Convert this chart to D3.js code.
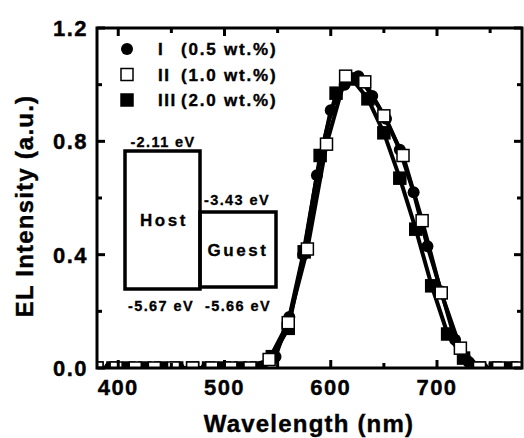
<!DOCTYPE html>
<html>
<head>
<meta charset="utf-8">
<script src="https://cdn.jsdelivr.net/npm/d3@7"></script>
<style>
  body { margin: 0; background: #fff; }
  svg text { font-family: "Liberation Sans", Arial, sans-serif; font-weight: bold; fill: #000; stroke: #000; stroke-width: 0.4px; }
</style>
</head>
<body>
<div id="chart"></div>
<script>
// series I (0.5 wt.%) - filled circles
const wlI = [379, 392, 405, 418, 431, 444, 457, 470, 483, 496, 509, 522, 535, 548, 561, 574, 587, 600, 613, 626, 639, 652, 665, 678, 691, 704, 717, 730, 743, 756, 769];
const valI = [0, 0, 0, 0, 0, 0, 0, 0, 0, 0, 0, 0, 0.005, 0.04, 0.18, 0.40, 0.68, 0.91, 1.0, 1.03, 0.96, 0.88, 0.77, 0.62, 0.43, 0.27, 0.10, 0.02, 0, 0, 0];
// series II (1.0 wt.%) - open squares
const wlII = [380, 398, 416, 434, 452, 470, 488, 506, 524, 542, 560, 578, 596, 614, 632, 650, 668, 686, 704, 722, 740, 758, 776];
const valII = [0, 0, 0, 0, 0, 0, 0, 0, 0, 0.03, 0.16, 0.42, 0.79, 1.03, 1.01, 0.89, 0.75, 0.52, 0.265, 0.07, 0, 0, 0];
// series III (2.0 wt.%) - filled squares
const wlIII = [380, 395, 410, 425, 440, 455, 470, 485, 500, 515, 530, 545, 560, 575, 590, 605, 620, 635, 650, 665, 680, 695, 710, 725, 740, 755, 770];
const valIII = [0, 0, 0, 0, 0, 0, 0, 0, 0, 0, 0, 0.04, 0.14, 0.41, 0.75, 0.97, 1.02, 0.95, 0.83, 0.67, 0.49, 0.29, 0.12, 0.035, 0, 0, 0];

const legendLabels = ["I", "II", "III"];
const legendNotes = ["(0.5 wt.%)", "(1.0 wt.%)", "(2.0 wt.%)"];
const xTicks = [400, 500, 600, 700];
const xMinor = [450, 550, 650, 750];
const yTicks = [0, 0.4, 0.8, 1.2];
const yMinor = [0.2, 0.6, 1.0];

const W = 524, H = 438;
const margin = { top: 28, right: 2, bottom: 70, left: 97 };

const svg = d3.select('#chart').append('svg')
  .attr('width', W)
  .attr('height', H);

const x = d3.scaleLinear().domain([380, 780]).range([margin.left, W - margin.right]);
const y = d3.scaleLinear().domain([0, 1.2]).range([H - margin.bottom, margin.top]);

const series = [
  { wl: wlI, val: valI, shape: 'circle', fill: '#000' },
  { wl: wlIII, val: valIII, shape: 'square', fill: '#000' },
  { wl: wlII, val: valII, shape: 'square', fill: '#fff' }
];

const line = d3.line().x(d => x(d[0])).y(d => y(d[1]));

const plot = svg.append('g');
plot.append('clipPath').attr('id', 'clip')
  .append('rect')
  .attr('x', margin.left).attr('y', margin.top - 10)
  .attr('width', W - margin.left - margin.right).attr('height', H - margin.bottom - margin.top + 10);

const inner = plot.append('g').attr('clip-path', 'url(#clip)');

// lines first
series.forEach(s => {
  const pts = s.wl.map((w, i) => [w, s.val[i]]);
  inner.append('path')
    .datum(pts)
    .attr('d', line)
    .attr('fill', 'none')
    .attr('stroke', '#000')
    .attr('stroke-width', 4)
    .attr('stroke-linejoin', 'round');
});

// markers
series.forEach(s => {
  const pts = s.wl.map((w, i) => [w, s.val[i]]);
  if (s.shape === 'circle') {
    inner.selectAll(null).data(pts).join('circle')
      .attr('cx', d => x(d[0]))
      .attr('cy', d => y(d[1]))
      .attr('r', 6)
      .attr('fill', s.fill);
  } else {
    inner.selectAll(null).data(pts).join('rect')
      .attr('x', d => x(d[0]) - 6)
      .attr('y', d => y(d[1]) - 6)
      .attr('width', 12)
      .attr('height', 12)
      .attr('fill', s.fill)
      .attr('stroke', '#000')
      .attr('stroke-width', 1.5);
  }
});

// axes (ticks inward)
const x0 = margin.left, x1 = W - margin.right, y0 = H - margin.bottom, y1 = margin.top;
const axisG = svg.append('g').attr('stroke', '#000');

xTicks.forEach(t => {
  axisG.append('line').attr('x1', x(t)).attr('x2', x(t)).attr('y1', y0).attr('y2', y0 - 8).attr('stroke-width', 3);
  axisG.append('line').attr('x1', x(t)).attr('x2', x(t)).attr('y1', y1).attr('y2', y1 + 8).attr('stroke-width', 3);
});
xMinor.forEach(t => {
  axisG.append('line').attr('x1', x(t)).attr('x2', x(t)).attr('y1', y0).attr('y2', y0 - 5).attr('stroke-width', 3);
  axisG.append('line').attr('x1', x(t)).attr('x2', x(t)).attr('y1', y1).attr('y2', y1 + 5).attr('stroke-width', 3);
});
yTicks.forEach(t => {
  axisG.append('line').attr('y1', y(t)).attr('y2', y(t)).attr('x1', x0).attr('x2', x0 + 8).attr('stroke-width', 3);
  axisG.append('line').attr('y1', y(t)).attr('y2', y(t)).attr('x1', x1).attr('x2', x1 - 8).attr('stroke-width', 3);
});
yMinor.forEach(t => {
  axisG.append('line').attr('y1', y(t)).attr('y2', y(t)).attr('x1', x0).attr('x2', x0 + 5).attr('stroke-width', 3);
  axisG.append('line').attr('y1', y(t)).attr('y2', y(t)).attr('x1', x1).attr('x2', x1 - 5).attr('stroke-width', 3);
});

svg.append('rect')
  .attr('x', x0).attr('y', y1)
  .attr('width', x1 - x0).attr('height', y0 - y1)
  .attr('fill', 'none')
  .attr('stroke', '#000')
  .attr('stroke-width', 3);

// tick labels
svg.selectAll('.xt').data(xTicks).join('text')
  .attr('x', d => x(d))
  .attr('y', y0 + 27)
  .attr('text-anchor', 'middle')
  .style('font-size', '22px')
  .style('letter-spacing', '1.5px')
  .text(d => d);

svg.selectAll('.yt').data(yTicks).join('text')
  .attr('x', x0 - 9)
  .attr('y', d => y(d) + 8)
  .attr('text-anchor', 'end')
  .style('font-size', '22px')
  .style('letter-spacing', '1.5px')
  .text(d => d.toFixed(1));

// axis titles
svg.append('text')
  .attr('x', 309)
  .attr('y', 432)
  .attr('text-anchor', 'middle')
  .style('font-size', '24px')
  .style('letter-spacing', '1.2px')
  .text('Wavelength (nm)');

svg.append('text')
  .attr('transform', 'translate(33, 206) rotate(-90)')
  .attr('text-anchor', 'middle')
  .style('font-size', '24px')
  .style('letter-spacing', '1.2px')
  .text('EL Intensity (a.u.)');

// legend
const legendShapes = [series[0], series[2], series[1]];
legendShapes.forEach((s, i) => {
  const ly = 49 + i * 25.5;
  if (s.shape === 'circle') {
    svg.append('circle').attr('cx', 127).attr('cy', ly).attr('r', 6).attr('fill', '#000');
  } else {
    svg.append('rect').attr('x', 121).attr('y', ly - 6).attr('width', 12).attr('height', 12)
      .attr('fill', s.fill).attr('stroke', '#000').attr('stroke-width', 1.5);
  }
  svg.append('text').attr('x', 158).attr('y', ly + 6).style('font-size', '17px')
    .style('letter-spacing', '1.5px').text(legendLabels[i]);
  svg.append('text').attr('x', 181).attr('y', ly + 6).style('font-size', '17px')
    .style('letter-spacing', '1.8px').text(legendNotes[i]);
});

// energy level inset
const inset = svg.append('g');
inset.append('rect').attr('x', 125).attr('y', 151).attr('width', 75).attr('height', 138)
  .attr('fill', 'none').attr('stroke', '#000').attr('stroke-width', 3.5);
inset.append('rect').attr('x', 200).attr('y', 212).attr('width', 76).attr('height', 75)
  .attr('fill', 'none').attr('stroke', '#000').attr('stroke-width', 3.5);

const insetText = (tx, ty, txt, size, spacing) => inset.append('text')
  .attr('x', tx).attr('y', ty)
  .attr('text-anchor', 'middle')
  .style('font-size', size + 'px')
  .style('letter-spacing', spacing + 'px')
  .style('stroke-width', '0.3px')
  .text(txt);

insetText(163, 147, '-2.11 eV', 14.5, 1.4);
insetText(237, 205, '-3.43 eV', 14.5, 1.4);
insetText(164, 226, 'Host', 17, 2.6);
insetText(238, 256, 'Guest', 17, 2.6);
insetText(161, 311, '-5.67 eV', 14.5, 1.4);
insetText(238, 311, '-5.66 eV', 14.5, 1.4);
</script>
</body>
</html>
